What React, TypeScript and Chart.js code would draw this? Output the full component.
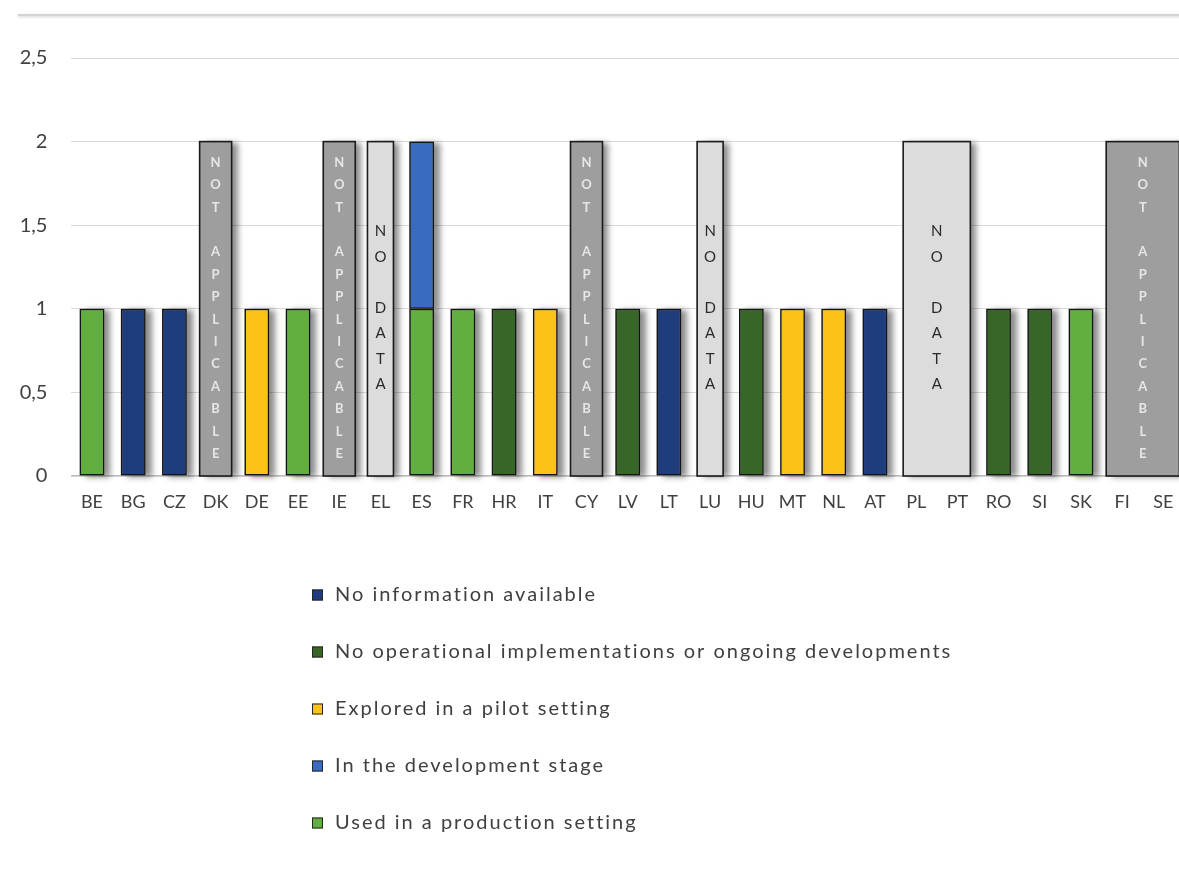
import React, { useEffect, useRef } from "react";
import { Chart, registerables } from "chart.js";

Chart.register(...registerables);

// ---------- data ----------
const countries = ["BE", "BG", "CZ", "DK", "DE", "EE", "IE", "EL", "ES", "FR", "HR", "IT", "CY", "LV", "LT", "LU", "HU", "MT", "NL", "AT", "PL", "PT", "RO", "SI", "SK", "FI", "SE"];
const N = null;
const noInformation = [N, 1, 1, N, N, N, N, N, N, N, N, N, N, N, 1, N, N, N, N, 1, N, N, N, N, N, N, N];
const noOperational = [N, N, N, N, N, N, N, N, N, N, 1, N, N, 1, N, N, 1, N, N, N, N, N, 1, 1, N, N, N];
const pilot = [N, N, N, N, 1, N, N, N, N, N, N, 1, N, N, N, N, N, 1, 1, N, N, N, N, N, N, N, N];
const development = [N, N, N, N, N, N, N, N, 1, N, N, N, N, N, N, N, N, N, N, N, N, N, N, N, N, N, N];
const production = [1, N, N, N, N, 1, N, N, 1, 1, N, N, N, N, N, N, N, N, N, N, N, N, N, N, 1, N, N];

const seriesLabels = [
  "No information available",
  "No operational implementations or ongoing developments",
  "Explored in a pilot setting",
  "In the development stage",
  "Used in a production setting",
];
const yTickValues = [0, 0.5, 1, 1.5, 2, 2.5];

const notApplicableGroups = [["DK"], ["IE"], ["CY"], ["FI", "SE"]];
const noDataGroups = [["EL"], ["LU"], ["PL", "PT"]];
const overlayValue = 2;
const notApplicableText = "NOT APPLICABLE";
const noDataText = "NO DATA";

// ---------- styles ----------
const COLORS = ["#1F3C7C", "#386528", "#FBC217", "#3B6BC0", "#63AE40"];
const NA_FILL = "#9E9E9E";
const ND_FILL = "#DCDCDC";
const FONT = "Lato, 'Open Sans', sans-serif";
const TEXT = "#404040";

function withShadow(ctx: any) {
  ctx.shadowColor = "rgba(0,0,0,0.45)";
  ctx.shadowBlur = 6;
  ctx.shadowOffsetX = 6;
  ctx.shadowOffsetY = 1;
}

const shadowPlugin = {
  id: "barShadow",
  beforeDatasetsDraw(chart: any) {
    const ctx = chart.ctx;
    ctx.save();
    withShadow(ctx);
    ctx.fillStyle = "#777";
    chart.getSortedVisibleDatasetMetas().forEach((meta: any) => {
      meta.data.forEach((el: any, i: number) => {
        const v = chart.data.datasets[meta.index].data[i];
        if (v === null || v === undefined) return;
        const p = el.getProps(["x", "y", "base", "width"], true);
        const top = Math.min(p.y, p.base);
        const h = Math.abs(p.base - p.y);
        ctx.fillRect(p.x - p.width / 2, top, p.width, h);
      });
    });
    ctx.restore();
  },
};

const topLinePlugin = {
  id: "topLine",
  beforeDraw(chart: any) {
    const ctx = chart.ctx;
    ctx.save();
    ctx.strokeStyle = "#D4D4D4";
    ctx.lineWidth = 2;
    ctx.shadowColor = "rgba(0,0,0,0.18)";
    ctx.shadowBlur = 3;
    ctx.shadowOffsetY = 1;
    ctx.beginPath();
    ctx.moveTo(18, 15);
    ctx.lineTo(chart.width, 15);
    ctx.stroke();
    ctx.restore();
  },
};

function drawOverlay(chart: any, group: string[], kind: "na" | "nd") {
  const ctx = chart.ctx;
  const xs = chart.scales.x;
  const ys = chart.scales.y;
  const i0 = countries.indexOf(group[0]);
  const i1 = countries.indexOf(group[group.length - 1]);
  const half = kind === "na" ? 16 : 13;
  const x1 = xs.getPixelForValue(i0) - half;
  const x2 = xs.getPixelForValue(i1) + half;
  const yTop = ys.getPixelForValue(overlayValue);
  const yBot = ys.getPixelForValue(0);
  ctx.save();
  withShadow(ctx);
  ctx.fillStyle = kind === "na" ? NA_FILL : ND_FILL;
  ctx.fillRect(x1, yTop, x2 - x1, yBot - yTop);
  ctx.restore();
  ctx.save();
  ctx.strokeStyle = "#1A1A1A";
  ctx.lineWidth = 1.6;
  ctx.strokeRect(x1, yTop, x2 - x1, yBot - yTop);
  const cx = (x1 + x2) / 2;
  ctx.textAlign = "center";
  ctx.textBaseline = "middle";
  if (kind === "na") {
    ctx.fillStyle = "#E6E6E6";
    ctx.font = "bold 13px " + FONT;
    const chars = notApplicableText.split("");
    chars.forEach((c, k) => {
      if (c !== " ") ctx.fillText(c, cx, yTop + 21 + k * 22.4);
    });
  } else {
    ctx.fillStyle = "#2A2A2A";
    ctx.font = "15px " + FONT;
    const chars = noDataText.split("");
    chars.forEach((c, k) => {
      if (c !== " ") ctx.fillText(c, cx, yTop + 90 + k * 25.5);
    });
  }
  ctx.restore();
}

const overlayPlugin = {
  id: "overlays",
  afterDatasetsDraw(chart: any) {
    notApplicableGroups.forEach((g) => drawOverlay(chart, g, "na"));
    noDataGroups.forEach((g) => drawOverlay(chart, g, "nd"));
  },
};

const legendPlugin = {
  id: "customLegend",
  afterDraw(chart: any) {
    const ctx = chart.ctx;
    ctx.save();
    ctx.font = "20px " + FONT;
    try { ctx.letterSpacing = "2px"; } catch (e) { /* ignore */ }
    ctx.textBaseline = "middle";
    ctx.textAlign = "left";
    seriesLabels.forEach((label, k) => {
      const y = 595 + k * 57;
      ctx.fillStyle = COLORS[k];
      ctx.fillRect(312, y - 5.5, 11, 11);
      ctx.strokeStyle = "#262626";
      ctx.lineWidth = 1;
      ctx.strokeRect(312.5, y - 5, 10, 10);
      ctx.fillStyle = TEXT;
      ctx.fillText(label, 335, y);
    });
    ctx.restore();
  },
};

export default function App() {
  const ref = useRef<HTMLCanvasElement | null>(null);
  useEffect(() => {
    let chart: any = null;
    let cancelled = false;
    const make = () => {
      if (cancelled || !ref.current) return;
      const seriesData = [noInformation, noOperational, pilot, development, production];
      // production first so it sits at the bottom of the ES stack
      const order = [4, 0, 1, 2, 3];
      chart = new Chart(ref.current, {
        type: "bar",
        data: {
          labels: countries,
          datasets: order.map((k) => ({
            label: seriesLabels[k],
            data: seriesData[k],
            backgroundColor: COLORS[k],
            borderColor: "#141414",
            borderWidth: 1.5,
            borderSkipped: false,
            barPercentage: 0.6,
            categoryPercentage: 1,
          })),
        },
        options: {
          animation: false,
          responsive: true,
          maintainAspectRatio: false,
          layout: { padding: { top: 58, right: 6, left: 0, bottom: 0 } },
          plugins: { legend: { display: false }, tooltip: { enabled: false } },
          scales: {
            x: {
              stacked: true,
              grid: { display: false },
              border: { display: true, color: "#BDBDBD", width: 1.2 },
              ticks: { color: TEXT, font: { family: FONT, size: 18 }, padding: 7, autoSkip: false, maxRotation: 0 },
              afterFit: (s: any) => { s.height = 887 - 476; },
            },
            y: {
              stacked: true,
              min: 0,
              max: 2.5,
              afterBuildTicks: (s: any) => { s.ticks = yTickValues.map((v) => ({ value: v })); },
              grid: { color: "#D9D9D9", drawTicks: false, lineWidth: 1 },
              border: { display: false },
              ticks: {
                color: TEXT,
                font: { family: FONT, size: 20 },
                padding: 24,
                callback: (v: any) => String(v).replace(".", ","),
              },
              afterFit: (s: any) => { s.width = 71.4; },
            },
          },
        },
        plugins: [topLinePlugin, shadowPlugin, overlayPlugin, legendPlugin],
      } as any);
    };
    (document as any).fonts && (document as any).fonts.load
      ? (document as any).fonts.load("19px Lato").then(make, make)
      : make();
    return () => {
      cancelled = true;
      if (chart) chart.destroy();
    };
  }, []);
  return (
    <div style={{ position: "absolute", left: 0, top: 0, width: 1179, height: 887, overflow: "hidden", background: "#fff" }}>
      <div style={{ position: "relative", width: 1190, height: 887 }}>
        <canvas ref={ref} />
      </div>
    </div>
  );
}
